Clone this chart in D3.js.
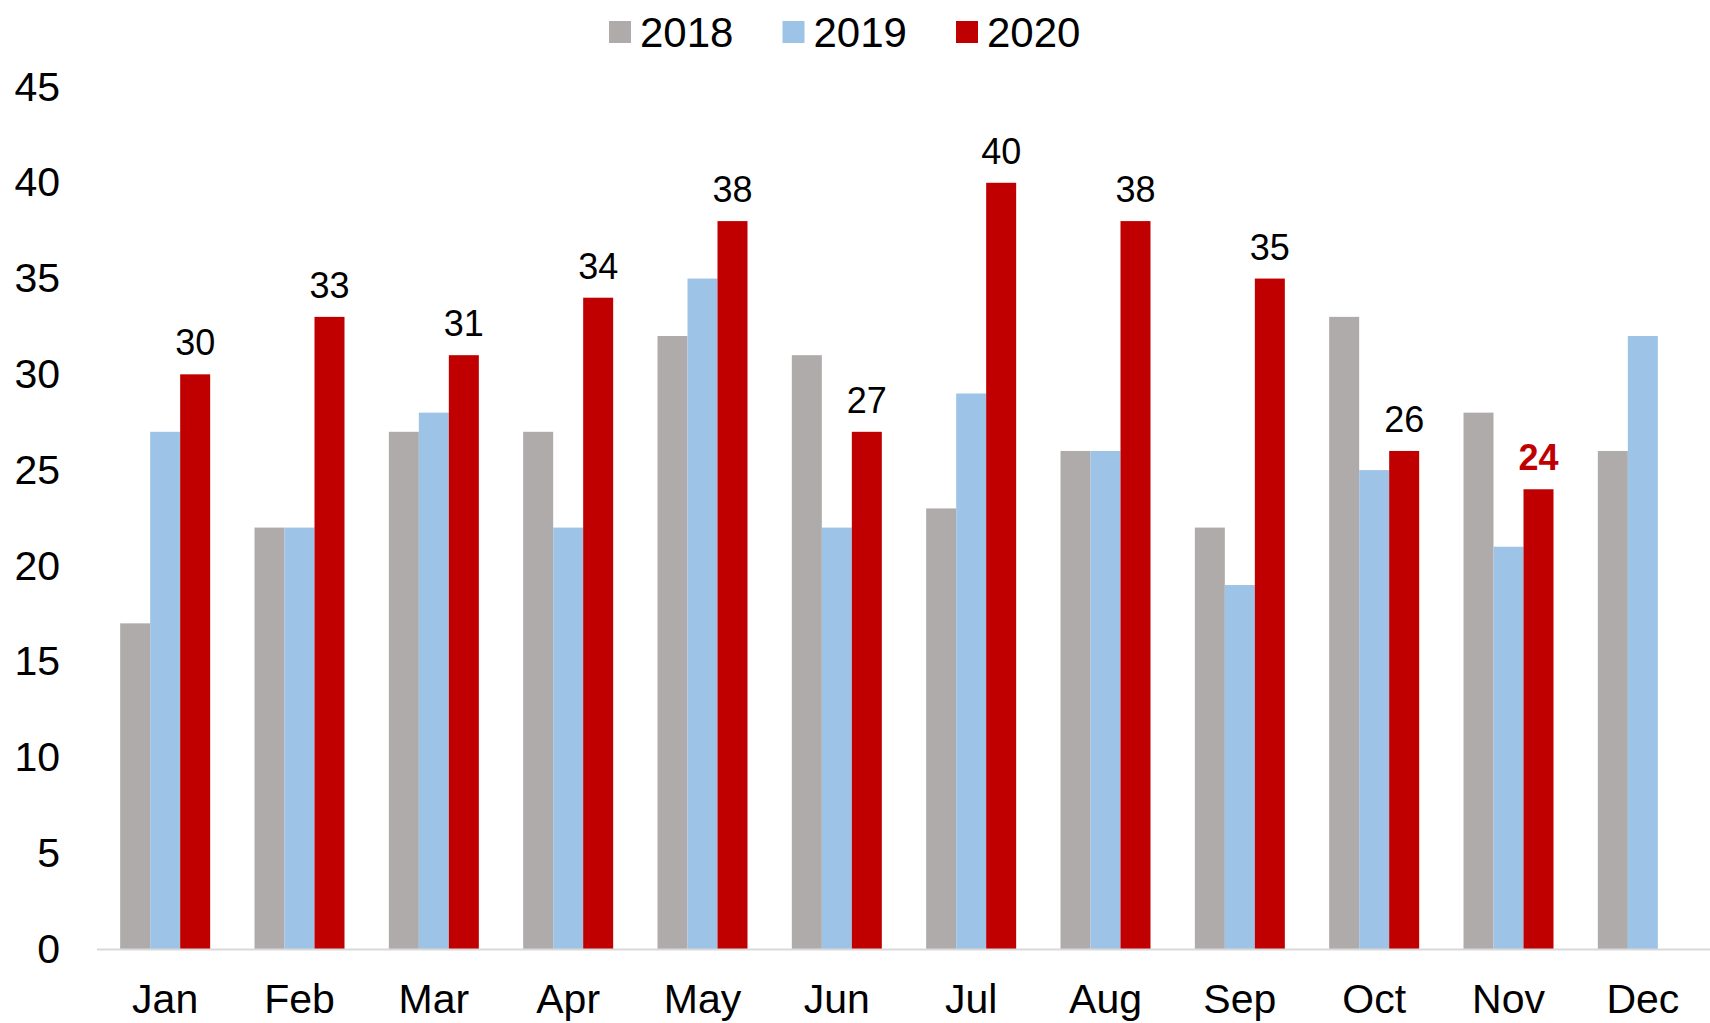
<!DOCTYPE html>
<html>
<head>
<meta charset="utf-8">
<title>Monthly 2018-2020</title>
<script src="https://cdn.jsdelivr.net/npm/d3@7"></script>
<style>
	body { margin: 0; background: #fff; }
	svg { display: block; font-family: Arial, 'Liberation Sans', sans-serif; }
</style>
</head>
<body>
<div id="chart"></div>
<script>
	//Data--------------------------------------------------------------------
	var months = ['Jan', 'Feb', 'Mar', 'Apr', 'May', 'Jun', 'Jul', 'Aug', 'Sep', 'Oct', 'Nov', 'Dec'];
	var series = ['2018', '2019', '2020'];
	var values2018 = [17, 22, 27, 27, 32, 31, 23, 26, 22, 33, 28, 26];
	var values2019 = [27, 22, 28, 22, 35, 22, 29, 26, 19, 25, 21, 32];
	var values2020 = [30, 33, 31, 34, 38, 27, 40, 38, 35, 26, 24, null];
	var yTicks = [0, 5, 10, 15, 20, 25, 30, 35, 40, 45];
	var colors = ['#afabab', '#9dc3e6', '#c00000'];

	var W = 1710, H = 1023;
	var svg = d3.select('#chart').append('svg')
		.attr('width', W)
		.attr('height', H);

	//Scales------------------------------------------------------------------
	var x = d3.scaleBand()
		.domain(months)
		.range([98, 1710])
		.paddingInner(0.33)
		.paddingOuter(0.165);
	var xs = d3.scaleBand()
		.domain(series)
		.range([0, x.bandwidth()]);
	var y = d3.scaleLinear()
		.domain([0, 45])
		.range([949, 87]);
	var color = d3.scaleOrdinal().domain(series).range(colors);

	var rows = [];
	months.forEach(function (m, i) {
		rows.push({ month: m, values: [values2018[i], values2019[i], values2020[i]] });
	});

	//Y axis labels (no line, no ticks)
	var yAxis = svg.append('g')
		.attr('transform', 'translate(60,0)')
		.call(d3.axisLeft(y).tickValues(yTicks).tickSize(0).tickPadding(0));
	yAxis.select('.domain').remove();
	yAxis.selectAll('text')
		.attr('fill', '#000')
		.style('font-size', '41px')
		.style('font-family', "Arial, 'Liberation Sans', sans-serif");

	//Bars
	var groups = svg.append('g').selectAll('g')
		.data(rows)
		.enter()
		.append('g')
		.attr('transform', function (d) {
			return 'translate(' + x(d.month) + ',0)';
		});
	groups.selectAll('rect')
		.data(function (d) {
			return series.map(function (s, k) { return { key: s, value: d.values[k] }; })
				.filter(function (e) { return e.value != null; });
		})
		.enter()
		.append('rect')
		.attr('x', function (d) { return xs(d.key); })
		.attr('y', function (d) { return y(d.value); })
		.attr('width', xs.bandwidth())
		.attr('height', function (d) { return y(0) - y(d.value); })
		.attr('fill', function (d) { return color(d.key); });

	//baseline
	svg.append('line')
		.attr('x1', 97)
		.attr('x2', W)
		.attr('y1', y(0) + 0.5)
		.attr('y2', y(0) + 0.5)
		.attr('stroke', '#d9d9d9')
		.attr('stroke-width', 2);

	//X axis labels
	var xAxis = svg.append('g')
		.attr('transform', 'translate(0,' + y(0) + ')')
		.call(d3.axisBottom(x).tickSize(0).tickPadding(0));
	xAxis.select('.domain').remove();
	xAxis.selectAll('text')
		.attr('y', 64)
		.attr('dy', 0)
		.attr('fill', '#000')
		.style('font-size', '41px')
		.style('font-family', "Arial, 'Liberation Sans', sans-serif");

	//Value labels on 2020 bars, last one highlighted
	var lastIdx = 10;
	svg.append('g').selectAll('text')
		.data(rows.filter(function (d) { return d.values[2] != null; }))
		.enter()
		.append('text')
		.attr('x', function (d) { return x(d.month) + xs('2020') + xs.bandwidth() / 2; })
		.attr('y', function (d) { return y(d.values[2]) - 19; })
		.attr('text-anchor', 'middle')
		.style('font-size', '36px')
		.style('font-weight', function (d, i) { return i === lastIdx ? 'bold' : 'normal'; })
		.attr('fill', function (d, i) { return i === lastIdx ? '#c00000' : '#000'; })
		.text(function (d) { return d.values[2]; });

	//Legend
	var legend = svg.append('g').selectAll('g')
		.data(series)
		.enter()
		.append('g')
		.attr('transform', function (d, i) {
			return 'translate(' + (609 + i * 173.5) + ',0)';
		});
	legend.append('rect')
		.attr('x', 0)
		.attr('y', 21)
		.attr('width', 22)
		.attr('height', 22)
		.attr('fill', function (d) { return color(d); });
	legend.append('text')
		.attr('x', 31)
		.attr('y', 47)
		.style('font-size', '42px')
		.attr('fill', '#000')
		.text(function (d) { return d; });
</script>
</body>
</html>
